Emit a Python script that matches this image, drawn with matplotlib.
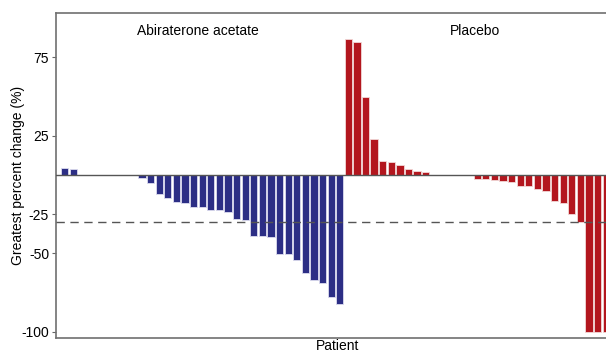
import matplotlib
matplotlib.use("Agg")
import matplotlib.pyplot as plt
import numpy as np

plt.rcParams['font.family'] = ['Liberation Sans', 'DejaVu Sans']
plt.rcParams['axes.unicode_minus'] = False

# greatest percent change per patient, sorted as in the waterfall
abiraterone = [4.5, 3.6, 0, 0, 0, 0, 0, 0, 0, -1.9, -5.3, -12.3, -14.5, -17.2,
               -18.1, -20.2, -20.2, -22.1, -22.6, -23.8, -27.9, -28.5, -38.9,
               -39.1, -39.6, -50.4, -50.4, -54.0, -62.3, -67.0, -69.1, -78.1, -82.6]
placebo = [86.5, 85.0, 50.0, 23.0, 9.1, 8.5, 6.6, 3.6, 2.6, 1.7, 0, 0, 0, 0, 0,
           -2.6, -2.8, -3.2, -3.8, -4.5, -6.8, -6.8, -8.9, -10.2, -16.8, -17.6,
           -24.9, -30.0, -100, -100, -100]
yticks = [75, 25, -25, -50, -100]
threshold = -30

x_abi = np.arange(len(abiraterone))
x_pla = np.arange(len(placebo)) + len(abiraterone)

fig = plt.figure(figsize=(6.06, 3.52), dpi=100)
# axes run a bit past the right edge, the original figure is cropped there
ax = fig.add_axes([56/606, 1 - 338/352, (620 - 56)/606, (338 - 13)/352])

ax.bar(x_abi, abiraterone, width=0.84, color='#2c2e85', edgecolor='#dcdcef', linewidth=0.6, zorder=2)
ax.bar(x_pla, placebo, width=0.84, color='#b3161e', edgecolor='#f2d8d8', linewidth=0.6, zorder=2)

ax.axhline(0, color='#555555', lw=1.0, zorder=3)
ax.axhline(threshold, color='#555555', lw=1.0, dashes=(6, 4), zorder=3)

ax.set_xlim(-1.0, 64.6)
ax.set_ylim(-104, 103.3)
ax.set_yticks(yticks)
ax.set_xticks([])
ax.tick_params(axis='y', labelsize=10, length=3, color='#666666', pad=2)

for side in ['left', 'top', 'bottom']:
    ax.spines[side].set_color('#707070')
    ax.spines[side].set_linewidth(1.2)
ax.spines['right'].set_visible(False)

ax.set_ylabel("Greatest percent change (%)", fontsize=10, labelpad=-3)
ax.set_xlabel("Patient", fontsize=10, labelpad=1)

ax.text(x_abi.mean() - 0.5, 92, "Abiraterone acetate", ha='center', va='center', fontsize=10)
ax.text(47.7, 92, "Placebo", ha='center', va='center', fontsize=10)

fig.savefig("out.png", dpi=100)
